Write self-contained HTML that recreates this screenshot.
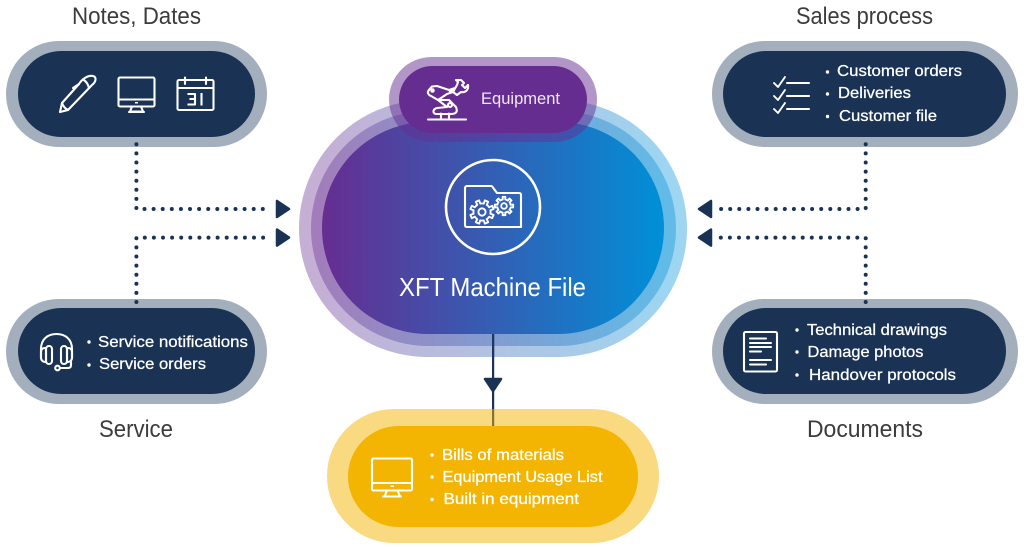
<!DOCTYPE html>
<html><head><meta charset="utf-8"><style>
html,body{margin:0;padding:0;background:#fff}
svg{display:block}
text{font-family:"Liberation Sans",sans-serif}
.t{font-size:24px;fill:#3c3c3c}
.l{font-size:16px;fill:#fff;stroke:#fff;stroke-width:.25}
.i{fill:none;stroke:#fff;stroke-width:2.100;stroke-linecap:round;stroke-linejoin:round}
.d{fill:none;stroke:#1a3355;stroke-width:4;stroke-linecap:round;stroke-dasharray:0 9.1}
</style></head><body>
<svg width="1024" height="547" viewBox="0 0 1024 547" xmlns="http://www.w3.org/2000/svg">
<defs>
<linearGradient id="g" gradientUnits="userSpaceOnUse" x1="322" y1="0" x2="664" y2="0"><stop offset="0" stop-color="#662d91"/><stop offset="1" stop-color="#0090d7"/></linearGradient>
<path id="tooth" d="M8.44 -1.64L11.8 -1.8L11.8 1.8L8.44 1.64A8.6 8.6 0 0 1 7.13 4.81"/>
<g id="gear"><use href="#tooth"/><use href="#tooth" transform="rotate(45)"/><use href="#tooth" transform="rotate(90)"/><use href="#tooth" transform="rotate(135)"/><use href="#tooth" transform="rotate(180)"/><use href="#tooth" transform="rotate(225)"/><use href="#tooth" transform="rotate(270)"/><use href="#tooth" transform="rotate(315)"/><circle r="3.6"/></g>
</defs>

<!-- grey pills -->
<g fill="#a3afbc">
<rect x="6" y="41" width="261" height="106" rx="53"/>
<rect x="712" y="41" width="306" height="106" rx="53"/>
<rect x="6" y="299" width="261" height="105" rx="52.5"/>
<rect x="712" y="299" width="306" height="105" rx="52.5"/>
</g>
<g fill="#1a3355">
<rect x="18" y="51" width="237" height="86" rx="43"/>
<rect x="723" y="51" width="283" height="86" rx="43"/>
<rect x="18" y="308" width="237" height="86" rx="43"/>
<rect x="723" y="308" width="283" height="86" rx="43"/>
</g>

<!-- connectors -->
<path class="d" d="M136.4 144.3V209H269"/>
<path class="d" d="M136.4 302V237.6H269"/>
<path class="d" d="M865.7 144.3V209H720"/>
<path class="d" d="M865.7 302V237.6H720"/>
<g fill="#1a3355" stroke="#1a3355" stroke-width="2.5" stroke-linejoin="round">
<path d="M277 201V217L289 209Z"/><path d="M277 229.6V245.6L289 237.6Z"/>
<path d="M711 201V217L699 209Z"/><path d="M711 229.6V245.6L699 237.6Z"/>
</g>

<!-- line & yellow -->
<rect x="492" y="334" width="2.2" height="92" fill="#1a3355"/>
<path d="M485 379H501L493 391Z" fill="#1a3355" stroke="#1a3355" stroke-width="2.5" stroke-linejoin="round"/>
<rect x="327" y="409" width="332" height="134" rx="67" fill="#f3b502" fill-opacity=".5"/>
<rect x="348" y="426" width="290" height="101" rx="50.5" fill="#f3b502"/>

<!-- main -->
<rect x="299" y="100" width="388" height="257" rx="128.5" fill="url(#g)" fill-opacity=".38"/>
<rect x="311" y="111" width="365" height="235" rx="117.5" fill="url(#g)" fill-opacity=".38"/>
<rect x="322" y="122" width="342" height="212" rx="106" fill="url(#g)"/>
<rect x="492" y="334" width="2.2" height="24" fill="#1a3355" fill-opacity=".8"/>

<!-- equipment -->
<rect x="389" y="57" width="208" height="85" rx="42.5" fill="#662d91" fill-opacity=".5"/>
<rect x="399" y="66" width="188" height="67" rx="33.5" fill="#662d91"/>

<!-- titles -->
<text class="t" x="72" y="24" textLength="129" lengthAdjust="spacingAndGlyphs">Notes, Dates</text>
<text class="t" x="796" y="24" textLength="137" lengthAdjust="spacingAndGlyphs">Sales process</text>
<text class="t" x="99" y="437" textLength="74" lengthAdjust="spacingAndGlyphs">Service</text>
<text class="t" x="807" y="437" textLength="116" lengthAdjust="spacingAndGlyphs">Documents</text>
<text x="399" y="296" font-size="26" fill="#fff" textLength="187" lengthAdjust="spacingAndGlyphs">XFT Machine File</text>
<text x="481" y="104" font-size="16.5" fill="#f0e8f5" textLength="79" lengthAdjust="spacingAndGlyphs">Equipment</text>

<!-- lists -->
<g fill="#fff">
<circle cx="827.5" cy="72" r="1.7"/><circle cx="827.5" cy="94" r="1.7"/><circle cx="827.5" cy="116.5" r="1.7"/>
<circle cx="89" cy="342" r="1.7"/><circle cx="89" cy="365" r="1.7"/>
<circle cx="797" cy="330" r="1.7"/><circle cx="797" cy="352" r="1.7"/><circle cx="797" cy="375" r="1.7"/>
<circle cx="432" cy="455" r="1.7"/><circle cx="432" cy="477" r="1.7"/><circle cx="432" cy="499.5" r="1.7"/>
</g>
<text class="l" x="837" y="76" textLength="125" lengthAdjust="spacingAndGlyphs">Customer orders</text>
<text class="l" x="838" y="98" textLength="73" lengthAdjust="spacingAndGlyphs">Deliveries</text>
<text class="l" x="839" y="121" textLength="98" lengthAdjust="spacingAndGlyphs">Customer file</text>
<text class="l" x="98" y="347" textLength="150" lengthAdjust="spacingAndGlyphs">Service notifications</text>
<text class="l" x="99" y="369" textLength="107" lengthAdjust="spacingAndGlyphs">Service orders</text>
<text class="l" x="807" y="335" textLength="140" lengthAdjust="spacingAndGlyphs">Technical drawings</text>
<text class="l" x="807.5" y="357" textLength="116" lengthAdjust="spacingAndGlyphs">Damage photos</text>
<text class="l" x="809" y="380" textLength="147" lengthAdjust="spacingAndGlyphs">Handover protocols</text>
<text class="l" x="442" y="460" textLength="122" lengthAdjust="spacingAndGlyphs">Bills of materials</text>
<text class="l" x="442.5" y="482" textLength="160" lengthAdjust="spacingAndGlyphs">Equipment Usage List</text>
<text class="l" x="443.5" y="504" textLength="135.5" lengthAdjust="spacingAndGlyphs">Built in equipment</text>

<!-- pen -->
<g class="i" stroke-width="1.9">
<path d="M60 112L62 103L79 84C82 79 88 75 93 76C97 77 96 82 92 85L68 110Z"/>
<path d="M62 103C63 106 65 108.500 68 110"/>
<path d="M79 84L73 88"/>
<path d="M83 79.500C86 81 88 84 89 88"/>
</g>

<!-- monitor -->
<g class="i">
<rect x="118.5" y="77.5" width="36" height="29" rx="1.5"/>
<path d="M118.5 99.500H154.500M132 106.500L130 111.500H143L141 106.500M129 112H144"/>
</g>
<rect x="135" y="102" width="3" height="1.5" fill="#fff"/>

<!-- calendar -->
<g class="i">
<rect x="177.5" y="80" width="36" height="30" rx="1.5"/>
<path d="M177.5 88H213.500M185 77.500V84M206 77.500V84"/>
<path d="M188.500 94H195V104.500H188.500M190.500 99H195M201.500 94V104.500" stroke-linecap="square"/>
</g>

<!-- checklist -->
<g class="i">
<path d="M774 83L778 87L785 77M774 96L778 100L785 90M774 109L778 113L785 103" stroke-width="1.9"/>
<path d="M787 83H809M787 96H809M787 109H809"/>
</g>

<!-- headset -->
<g class="i" stroke-width="1.9">
<path d="M41 358V349C41 339 48 334 56.500 334C65 334 72 339 72 349V358"/>
<path d="M41 352C41 349 43 348 45 348H46V362H45C43 362 41 360 41 358Z"/>
<rect x="46" y="346" width="6" height="18" rx="3"/>
<path d="M72 352C72 349 70 348 68 348H67V362H68C70 362 72 360 72 358Z"/>
<rect x="61" y="346" width="6" height="18" rx="3"/>
<path d="M71 362V365C71 367 70 368 68 368H60"/>
<circle cx="57.500" cy="368" r="2.300"/>
</g>

<!-- document -->
<g class="i">
<rect x="744" y="332" width="33" height="39.500" rx="1.500"/>
<path d="M750 338.500H766M750 343H771M750 347H771M750 351.500H761M750 360H771M750 364.500H766"/>
</g>

<!-- yellow monitor -->
<g class="i">
<rect x="372" y="458.500" width="40" height="32" rx="1.500"/>
<path d="M372 483H412M387 490.500L384.500 496.500H400L397.500 490.500M383 496.500H401"/>
</g>
<rect x="390.500" y="485.500" width="3.500" height="1.500" fill="#fff"/>

<!-- robot -->
<g class="i" stroke-width="1.9">
<path d="M428 119.500H466M441 119V113.500M449 119V113.500"/>
<path d="M432 86.500L428.500 90.500C427 93 428.500 95 431 96L438 100L447 94L453 92L455 88L449 90L437 86Z"/>
<path d="M438 100L447 107L437 108C433 109 432 113 436 114H451C456 114 458 112 456 107L449 100Z"/>
<circle cx="432.500" cy="90.500" r="1.200"/><circle cx="450" cy="105" r="2"/><circle cx="451" cy="91" r="1.200"/>
<path d="M453 92L457 85L458 82L456 80L461 80L464 83L462 85L465 88L468 85C469 90 465 93 461 92L457 95Z"/>
</g>

<!-- folder icon -->
<circle cx="493" cy="207" r="47" fill="none" stroke="#fff" stroke-width="2.600"/>
<g class="i" stroke-width="1.900">
<path d="M494 189L497 193H519C520.500 193 521 194 521 195V227H467C465.500 227 465 226 465 225V188C465 187 466 186 467 186H491C492.500 186 493 187.500 494 189Z"/>
<use href="#gear" transform="translate(482 212) rotate(22.500)" stroke-width="1.900"/>
<use href="#gear" transform="translate(504 206) scale(.78)" stroke-width="2.400"/>
</g>
</svg>
</body></html>
